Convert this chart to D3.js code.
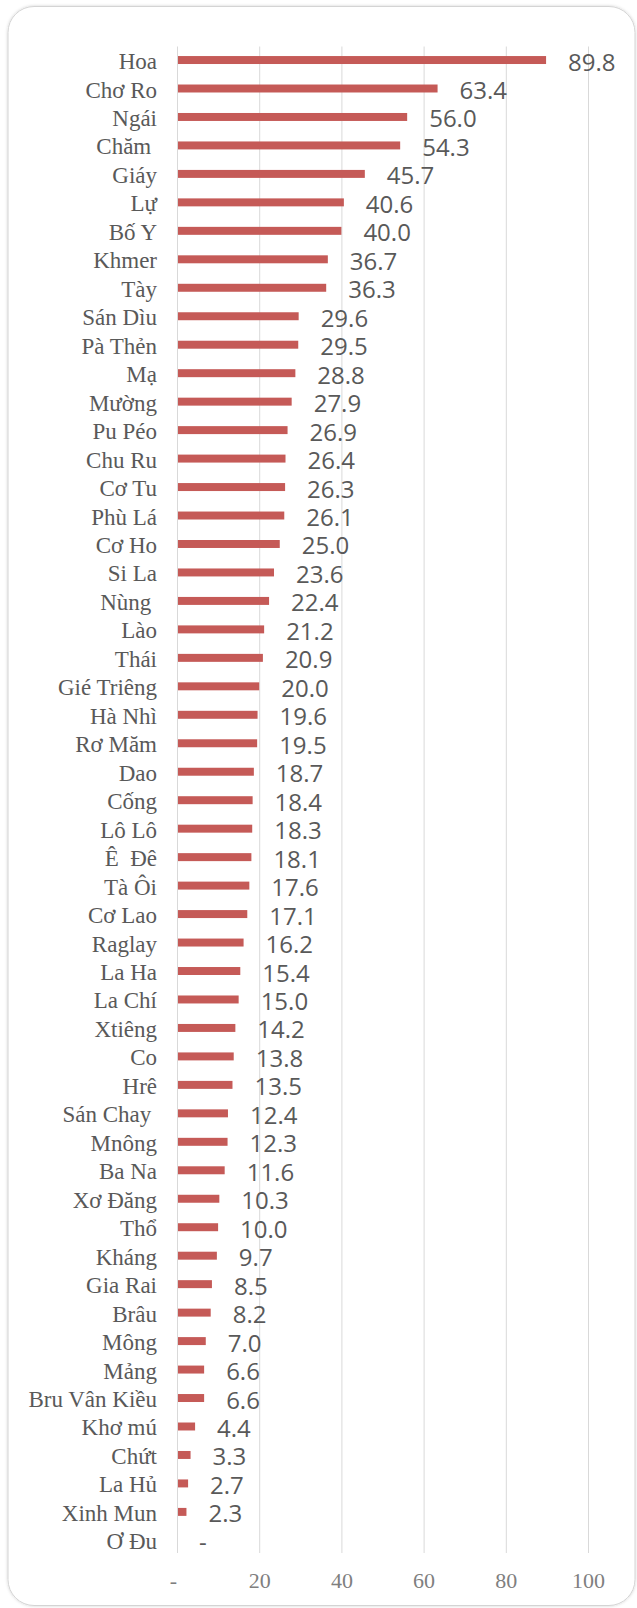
<!DOCTYPE html>
<html>
<head>
<meta charset="utf-8">
<script src="https://cdn.jsdelivr.net/npm/d3@7"></script>
<style>
    html, body { margin: 0; padding: 0; background: #ffffff; }
    svg { display: block; }
    text { white-space: pre; }
</style>
</head>
<body>
<div id="chart"></div>
<script>
// Data
const categories = [
    "Hoa", "Chơ Ro", "Ngái", "Chăm ", "Giáy", "Lự", "Bố Y", "Khmer", "Tày", "Sán Dìu",
    "Pà Thẻn", "Mạ", "Mường", "Pu Péo", "Chu Ru", "Cơ Tu", "Phù Lá", "Cơ Ho", "Si La", "Nùng ",
    "Lào", "Thái", "Gié Triêng", "Hà Nhì", "Rơ Măm", "Dao", "Cống", "Lô Lô", "Ê  Đê", "Tà Ôi",
    "Cơ Lao", "Raglay", "La Ha", "La Chí", "Xtiêng", "Co", "Hrê", "Sán Chay ", "Mnông", "Ba Na",
    "Xơ Đăng", "Thổ", "Kháng", "Gia Rai", "Brâu", "Mông", "Mảng", "Bru Vân Kiều", "Khơ mú", "Chứt",
    "La Hủ", "Xinh Mun", "Ơ Đu"
];
const values = [
    89.8, 63.4, 56.0, 54.3, 45.7, 40.6, 40.0, 36.7, 36.3, 29.6,
    29.5, 28.8, 27.9, 26.9, 26.4, 26.3, 26.1, 25.0, 23.6, 22.4,
    21.2, 20.9, 20.0, 19.6, 19.5, 18.7, 18.4, 18.3, 18.1, 17.6,
    17.1, 16.2, 15.4, 15.0, 14.2, 13.8, 13.5, 12.4, 12.3, 11.6,
    10.3, 10.0, 9.7, 8.5, 8.2, 7.0, 6.6, 6.6, 4.4, 3.3,
    2.7, 2.3, 0
];
const xTicks = [0, 20, 40, 60, 80, 100];

const data = categories.map((c, i) => ({ name: c, value: values[i] }));

const svgWidth = 637, svgHeight = 1608;
const colors = {
    bar: '#c55a57',
    grid: '#d9d9d9',
    label: '#595959',
    axisText: '#7f7f7f',
    card: '#d4d4d4'
};

const svg = d3.select('#chart')
    .append('svg')
    .attr('width', svgWidth)
    .attr('height', svgHeight);

// soft card shadow
const defs = svg.append('defs');
const filter = defs.append('filter').attr('id', 'shadow')
    .attr('x', '-5%').attr('y', '-5%').attr('width', '110%').attr('height', '110%');
filter.append('feDropShadow')
    .attr('dx', 0).attr('dy', 0).attr('stdDeviation', 1.5)
    .attr('flood-color', '#000').attr('flood-opacity', 0.18);

svg.append('rect')
    .attr('x', 8).attr('y', 6.5)
    .attr('width', 627).attr('height', 1599)
    .attr('rx', 26)
    .attr('fill', '#fff')
    .attr('stroke', colors.card)
    .attr('stroke-width', 1)
    .attr('filter', 'url(#shadow)');

// Scales
const scaleX = d3.scaleLinear()
    .domain([0, 100])
    .range([177, 588]);

const scaleY = d3.scaleBand()
    .domain(categories)
    .range([45.8, 1554.6])
    .paddingInner(0.72)
    .paddingOuter(0.36);

const gridTop = 46.5, gridBottom = 1553;

// Grid lines + x tick labels
const xAxis = d3.axisBottom(scaleX)
    .tickValues(xTicks)
    .tickSize(-(gridBottom - gridTop))
    .tickFormat(d => d === 0 ? '-' : d);

const xAxisG = svg.append('g')
    .attr('class', 'x-axis')
    .attr('transform', `translate(0,${gridBottom})`)
    .call(xAxis);
xAxisG.selectAll('.domain').remove();
xAxisG.selectAll('.tick line')
    .attr('stroke', colors.grid)
    .attr('stroke-width', 1);
xAxisG.selectAll('.tick text')
    .attr('y', 35)
    .attr('dy', 0)
    .attr('dx', d => d === 0 ? -4 : 0)
    .attr('fill', colors.axisText)
    .attr('font-family', '"Liberation Serif", "Times New Roman", serif')
    .attr('font-size', 22);

// Bars
svg.append('g')
    .selectAll('rect')
    .data(data)
    .join('rect')
    .attr('x', scaleX(0) + 1)
    .attr('y', d => scaleY(d.name))
    .attr('width', d => Math.max(0, scaleX(d.value) - scaleX(0) - 1))
    .attr('height', scaleY.bandwidth())
    .attr('fill', colors.bar);

// Category labels
svg.append('g')
    .selectAll('text')
    .data(data)
    .join('text')
    .attr('x', 157)
    .attr('y', d => scaleY(d.name) + scaleY.bandwidth() / 2 + 9)
    .attr('text-anchor', 'end')
    .attr('fill', colors.label)
    .attr('font-family', '"Liberation Serif", "Times New Roman", serif')
    .attr('font-size', 23)
    .text(d => d.name);

// Value labels
svg.append('g')
    .selectAll('text')
    .data(data)
    .join('text')
    .attr('x', d => scaleX(d.value) + 22)
    .attr('y', d => scaleY(d.name) + scaleY.bandwidth() / 2 + 10.5)
    .attr('fill', colors.label)
    .attr('font-family', '"Open Sans", sans-serif')
    .attr('font-size', 24)
    .text(d => d.value === 0 ? '-' : d3.format('.1f')(d.value));
</script>
</body>
</html>
